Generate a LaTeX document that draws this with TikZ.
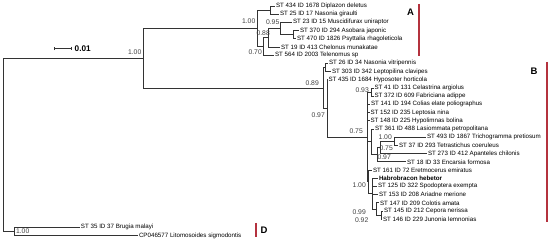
\documentclass[tikz,border=0pt]{standalone}
\usepackage{fontspec}
\setmainfont{Liberation Sans}
\usetikzlibrary{arrows.meta}
\definecolor{cladered}{RGB}{180,50,62}

\begin{document}
\begin{tikzpicture}[x=1pt, y=-1pt, font=\fontsize{6.2}{7}\selectfont,
        br/.style={draw=black!80, line width=0.6pt},
        tip/.style={anchor=west, inner sep=0.8pt, text=black},
        prob/.style={anchor=east, inner sep=0pt, text=black!75, font=\fontsize{6.8}{7}\selectfont},
        cladebar/.style={draw=cladered, line width=1.2pt},
        cladelbl/.style={font=\fontsize{9.5}{10}\selectfont\bfseries, inner sep=0pt}]
        \fill[white] (0,0) rectangle (550,245);
        \useasboundingbox (0,0) rectangle (550,245);
        % scale bar
        \coordinate (sb1) at (54,48.5);
        \coordinate (sb2) at (72,48.5);
        \draw[br, line width=1pt, {Bar[width=3.5pt]}-{Bar[width=3.5pt]}] (sb1) -- (sb2);
        \node[anchor=west, inner sep=0pt, font=\fontsize{8.2}{9}\selectfont\bfseries] (sbl) at (74.5,48.8) {0.01};
        % inner nodes
        \coordinate (root) at (3,144.8);
        \coordinate (top) at (143,58.1);
        \coordinate (nD) at (14,231.5);
        \coordinate (nA) at (257,28.3);
        \coordinate (pA) at (270,10.1);
        \coordinate (s70) at (263,46.5);
        \coordinate (s88) at (268,37.8);
        \coordinate (s95) at (280,28.55);
        \coordinate (sAP) at (293,34.7);
        \coordinate (nB) at (323,87.95);
        \coordinate (pV) at (325,67.5);
        \coordinate (s97) at (327,108.4);
        \coordinate (s75) at (367,136.95);
        \coordinate (s93) at (371,92.1);
        \coordinate (nL) at (371,141.8);
        \coordinate (x97) at (377.5,154.6);
        \coordinate (x75) at (380,147.45);
        \coordinate (x100) at (394,141.3);
        \coordinate (nN) at (368.5,181.8);
        \coordinate (h100) at (372,193.6);
        \coordinate (h99) at (376,208.95);
        \coordinate (h92) at (381,215.1);
        % clade A
        \node[tip] (t0) at (275,6.0) {ST 434 ID 1678 Diplazon deletus};
        \node[tip] (t1) at (279,14.2) {ST 25 ID 17 Nasonia giraulti};
        \node[tip] (t2) at (292,22.4) {ST 23 ID 15 Muscidifurax uniraptor};
        \node[tip] (t3) at (299,30.6) {ST 370 ID 294 Asobara japonic};
        \node[tip] (t4) at (296,38.8) {ST 470 ID 1826 Psyttalia rhagoleticola};
        \node[tip] (t5) at (280,47.0) {ST 19 ID 413 Chelonus munakatae};
        \node[tip] (t6) at (274,55.2) {ST 564 ID 2003 Telenomus sp};
        % clade B
        \node[tip] (t7) at (328,63.4) {ST 26 ID 34 Nasonia vitripennis};
        \node[tip] (t8) at (331,71.6) {ST 303 ID 342 Leptopilina clavipes};
        \node[tip] (t9) at (327.5,79.8) {ST 435 ID 1684 Hyposoter horticola};
        \node[tip] (t10) at (373.5,88.0) {ST 41 ID 131 Celastrina argiolus};
        \node[tip] (t11) at (373.5,96.2) {ST 372 ID 609 Fabriciana adippe};
        \node[tip] (t12) at (370,104.4) {ST 141 ID 194 Colias elate poliographus};
        \node[tip] (t13) at (369.5,112.6) {ST 152 ID 235 Leptosia nina};
        \node[tip] (t14) at (369.5,120.8) {ST 148 ID 225 Hypolimnas bolina};
        \node[tip] (t15) at (374,129.0) {ST 361 ID 488 Lasiommata petropolitana};
        \node[tip] (t16) at (426,137.2) {ST 493 ID 1867 Trichogramma pretiosum};
        \node[tip] (t17) at (398,145.4) {ST 37 ID 293 Tetrastichus coeruleus};
        \node[tip] (t18) at (427,153.6) {ST 273 ID 412 Apanteles chilonis};
        \node[tip] (t19) at (406,161.8) {ST 18 ID 33 Encarsia formosa};
        \node[tip] (t20) at (372,170.0) {ST 161 ID 72 Eretmocerus emiratus};
        \node[tip, font=\fontsize{6.2}{7}\selectfont\bfseries] (t21) at (378,178.2) {Habrobracon hebetor};
        \node[tip] (t22) at (377,186.4) {ST 125 ID 322 Spodoptera exempta};
        \node[tip] (t23) at (378,194.6) {ST 153 ID 208 Ariadne merione};
        \node[tip] (t24) at (379,202.8) {ST 147 ID 209 Colotis amata};
        \node[tip] (t25) at (383,211.0) {ST 145 ID 212 Cepora nerissa};
        \node[tip] (t26) at (382,219.2) {ST 146 ID 229 Junonia lemnonias};
        % clade D
        \node[tip] (t27) at (80,227.4) {ST 35 ID 37 Brugia malayi};
        \node[tip] (t28) at (138,235.6) {CP046577 Litomosoides sigmodontis};
        % branches
        \draw[br] (root) |- (top);  \draw[br] (root) |- (nD);
        \draw[br] (top) |- (nA);    \draw[br] (top) |- (nB);
        \draw[br] (nA) |- (pA);     \draw[br] (nA) |- (s70);
        \draw[br] (pA) |- (t0);     \draw[br] (pA) |- (t1);
        \draw[br] (s70) |- (s88);   \draw[br] (s70) |- (t6);
        \draw[br] (s88) |- (s95);   \draw[br] (s88) |- (t5);
        \draw[br] (s95) |- (t2);    \draw[br] (s95) |- (sAP);
        \draw[br] (sAP) |- (t3);    \draw[br] (sAP) |- (t4);
        \draw[br] (nB) |- (pV);     \draw[br] (nB) |- (s97);
        \draw[br] (pV) |- (t7);     \draw[br] (pV) |- (t8);
        \draw[br] (s97) |- (t9);    \draw[br] (s97) |- (s75);
        \draw[br] (s75) |- (s93);   \draw[br] (s75) |- (t12);
        \draw[br] (s75) |- (t13);   \draw[br] (s75) |- (t14);
        \draw[br] (s75) |- (nL);    \draw[br] (s75) |- (nN);
        \draw[br] (s93) |- (t10);   \draw[br] (s93) |- (t11);
        \draw[br] (nL) |- (t15);    \draw[br] (nL) |- (x97);
        \draw[br] (x97) |- (x75);   \draw[br] (x97) |- (t19);
        \draw[br] (x75) |- (x100);  \draw[br] (x75) |- (t18);
        \draw[br] (x100) |- (t16);  \draw[br] (x100) |- (t17);
        \draw[br] (nN) |- (t20);    \draw[br] (nN) |- (h100);
        \draw[br] (h100) |- (t21);  \draw[br] (h100) |- (t22);
        \draw[br] (h100) |- (t23);  \draw[br] (h100) |- (h99);
        \draw[br] (h99) |- (t24);   \draw[br] (h99) |- (h92);
        \draw[br] (h92) |- (t25);   \draw[br] (h92) |- (t26);
        \draw[br] (nD) |- (t27);    \draw[br] (nD) |- (t28);
        % support values
        \node[prob] (p1) at (141.5,52.5) {1.00};
        \node[prob] (p2) at (255.5,21.5) {1.00};
        \node[prob] (p3) at (279.5,22.5) {0.95};
        \node[prob] (p4) at (270,33.5) {0.88};
        \node[prob] (p5) at (262,52.5) {0.70};
        \node[prob] (p6) at (319,83) {0.89};
        \node[prob] (p7) at (325,115) {0.97};
        \node[prob] (p8) at (363,131) {0.75};
        \node[prob] (p9) at (369,90) {0.93};
        \node[prob] (p10) at (392,137) {1.00};
        \node[prob] (p11) at (393,148.5) {0.75};
        \node[prob] (p12) at (391,157.5) {0.97};
        \node[prob] (p13) at (366,185) {1.00};
        \node[prob] (p14) at (366,212.5) {0.99};
        \node[prob] (p15) at (368.5,220) {0.92};
        \node[prob] (p16) at (29.5,231.5) {1.00};
        % clade bars
        \draw[cladebar] (419,4) -- (419,56);
        \node[cladelbl] (lA) at (410.5,12.5) {A};
        \draw[cladebar] (547,62) -- (547,222);
        \node[cladelbl] (lB) at (534,71) {B};
        \draw[cladebar] (256,223) -- (256,237);
        \node[cladelbl] (lD) at (264,230) {D};
\end{tikzpicture}
\end{document}
